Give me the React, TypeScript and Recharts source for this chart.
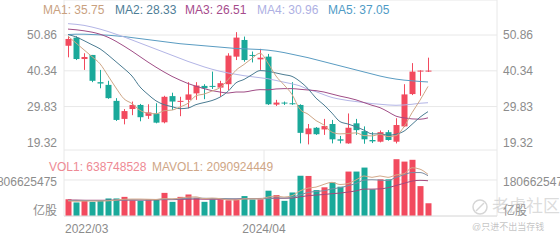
import { ComposedChart, Bar, Line, XAxis, YAxis, CartesianGrid } from 'recharts'

const months = [
  '2022/03', '2022/04', '2022/05', '2022/06', '2022/07', '2022/08', '2022/09', '2022/10', '2022/11', '2022/12',
  '2023/01', '2023/02', '2023/03', '2023/04', '2023/05', '2023/06', '2023/07', '2023/08', '2023/09', '2023/10', '2023/11', '2023/12',
  '2024/01', '2024/02', '2024/03', '2024/04', '2024/05', '2024/06', '2024/07', '2024/08', '2024/09', '2024/10', '2024/11', '2024/12',
  '2025/01', '2025/02', '2025/03', '2025/04', '2025/05', '2025/06', '2025/07', '2025/08', '2025/09', '2025/10', '2025/11', '2025/12',
]

const opens = [47.7, 50.1, 43.8, 45.0, 37.0, 36.2, 31.5, 26.2, 29.1, 30.3, 27.1, 27.8, 25.2, 32.9, 31.2, 31.8, 33.7, 35.9, 35.9, 35.4, 36.4, 44.5, 49.4, 45.0, 43.7, 44.5, 30.4, 31.0, 30.8, 30.3, 21.7, 23.6, 23.1, 24.7, 20.2, 19.0, 24.9, 22.6, 20.0, 19.5, 22.3, 19.5, 24.0, 33.5, 40.2, 40.2]
const closes = [49.7, 43.8, 44.4, 37.4, 36.6, 32.3, 25.9, 28.5, 30.3, 26.7, 28.1, 25.1, 32.7, 31.3, 31.5, 33.4, 36.0, 35.2, 35.8, 36.7, 44.8, 50.1, 43.5, 44.7, 44.2, 30.5, 31.0, 30.8, 30.6, 22.1, 23.4, 21.7, 24.1, 20.2, 19.8, 23.6, 22.9, 20.2, 19.6, 22.3, 20.0, 24.4, 33.4, 40.1, 40.4, 40.4]
const highs = [50.6, 50.5, 45.5, 45.0, 40.6, 37.4, 32.3, 29.1, 31.3, 30.6, 30.5, 30.8, 33.0, 33.9, 32.7, 37.0, 37.0, 36.4, 40.1, 37.4, 45.5, 51.7, 50.4, 46.0, 46.8, 45.3, 31.8, 31.3, 37.0, 30.5, 24.7, 23.8, 26.2, 25.9, 21.2, 27.8, 26.2, 24.0, 22.3, 22.8, 22.9, 26.4, 36.4, 42.6, 40.5, 44.2]
const lows = [44.3, 43.5, 40.6, 37.0, 35.2, 32.1, 25.6, 24.6, 27.3, 25.5, 26.2, 24.9, 24.9, 28.8, 27.0, 29.3, 31.8, 32.0, 35.0, 32.7, 34.7, 43.5, 43.0, 42.8, 40.6, 30.3, 30.0, 30.3, 30.3, 19.0, 18.7, 21.5, 21.5, 19.0, 19.0, 18.9, 21.5, 18.9, 19.1, 19.3, 19.8, 19.0, 23.8, 33.2, 33.0, 40.0]

const ma1 = [50.5, 48.5, 46.5, 44.5, 42.4, 38.9, 35.3, 32.1, 30.7, 28.7, 27.9, 27.7, 28.6, 28.8, 29.7, 30.8, 33.0, 33.5, 34.4, 35.4, 37.7, 40.5, 42.2, 44.0, 45.5, 42.6, 38.8, 36.2, 33.4, 29.0, 27.6, 25.7, 24.4, 22.3, 21.8, 21.9, 22.1, 21.3, 21.2, 21.7, 21.0, 21.3, 23.9, 28.0, 31.7, 35.75]
const ma2 = [51.0, 50.3, 49.2, 48.0, 46.8, 45.0, 43.0, 41.0, 38.8, 35.6, 33.4, 31.5, 30.4, 29.8, 29.2, 29.4, 30.4, 31.0, 31.6, 32.6, 34.3, 36.8, 37.8, 39.2, 40.4, 40.2, 39.7, 39.2, 38.7, 37.2, 35.1, 32.3, 30.3, 27.9, 25.4, 24.7, 23.9, 22.9, 21.8, 21.8, 21.4, 21.7, 22.6, 24.6, 26.7, 28.33]
const ma3 = [52.6, 52.4, 52.1, 51.7, 51.1, 50.2, 49.0, 47.6, 46.1, 44.5, 42.9, 41.4, 40.0, 38.7, 37.6, 36.6, 35.8, 35.1, 34.5, 34.1, 33.8, 34.1, 34.1, 34.5, 34.8, 34.75, 35.0, 35.1, 35.1, 34.9, 34.7, 34.5, 34.1, 33.5, 32.9, 32.4, 31.8, 31.0, 30.2, 29.5, 28.3, 27.0, 26.5, 26.2, 26.1, 26.51]
const ma4 = [54.2, 54.0, 53.7, 53.2, 52.6, 51.9, 51.1, 50.3, 49.4, 48.5, 47.6, 46.7, 45.8, 44.9, 44.0, 43.1, 42.3, 41.5, 40.8, 40.2, 39.7, 39.3, 38.9, 38.6, 38.3, 38.0, 37.5, 37.0, 36.5, 35.9, 34.9, 34.2, 33.3, 32.5, 32.0, 31.6, 31.3, 31.0, 30.7, 30.5, 30.3, 30.2, 30.3, 30.5, 30.8, 30.96]
const ma5 = [51.0, 51.1, 51.1, 51.0, 50.9, 50.8, 50.6, 50.4, 50.1, 49.8, 49.5, 49.2, 48.9, 48.6, 48.3, 48.1, 47.9, 47.7, 47.5, 47.3, 47.1, 46.9, 46.8, 46.7, 46.6, 46.4, 46.1, 45.7, 45.2, 44.7, 44.2, 43.6, 43.0, 42.4, 41.8, 41.2, 40.6, 40.0, 39.4, 38.8, 38.3, 37.9, 37.6, 37.4, 37.2, 37.05]

// volume in 亿股
const vols = [8.4, 6.8, 7.6, 7.1, 7.6, 8.8, 8.8, 9.6, 7.9, 7.6, 8.3, 8.3, 11.6, 7.1, 9.6, 10.8, 9.1, 7.1, 8.3, 8.3, 7.9, 8.3, 10.0, 8.3, 8.4, 12.7, 10.5, 7.6, 11.8, 20.2, 20.1, 13.0, 14.4, 16.9, 14.7, 22.3, 22.3, 24.3, 13.4, 18.4, 18.4, 28.5, 27.3, 28.2, 15.0, 6.39]
const mavol1 = [7.6, 7.4, 7.5, 7.5, 7.5, 7.6, 8.0, 8.4, 8.5, 8.5, 8.4, 8.3, 8.7, 8.6, 9.0, 9.5, 9.6, 8.7, 9.0, 8.7, 8.1, 8.0, 8.6, 8.6, 8.6, 9.5, 10.0, 9.5, 10.2, 12.6, 14.0, 14.5, 15.9, 16.9, 15.8, 16.3, 18.1, 20.1, 19.4, 20.1, 19.4, 20.6, 21.2, 24.2, 23.5, 20.9]
const mavol2 = [7.8, 7.8, 7.8, 7.7, 7.7, 7.8, 7.9, 8.0, 8.1, 8.0, 8.0, 8.2, 8.5, 8.4, 8.6, 8.9, 9.0, 8.9, 8.8, 8.8, 8.7, 8.6, 8.6, 8.7, 8.6, 8.8, 9.0, 9.0, 9.4, 10.6, 11.8, 12.3, 12.7, 13.6, 14.2, 15.2, 16.3, 18.0, 18.2, 18.0, 17.8, 19.4, 20.7, 21.8, 21.8, 20.2]
const mavol3 = [8.0, 8.0, 7.9, 7.9, 7.9, 7.9, 8.0, 8.0, 8.0, 8.0, 8.0, 8.1, 8.2, 8.2, 8.3, 8.4, 8.5, 8.4, 8.4, 8.4, 8.4, 8.5, 8.7, 8.7, 8.8, 8.9, 8.9, 8.9, 9.0, 9.6, 10.2, 10.5, 10.8, 11.2, 11.5, 12.0, 12.6, 13.5, 13.5, 13.6, 14.2, 15.3, 16.4, 17.5, 17.9, 17.7]

const priceTicks = [19.32, 29.83, 40.34, 50.86]
const volTickLabel = '1806625475'
const volTick = 18.06625475
const xLabels = ['2022/03', '2024/04']

const RED = '#f24a5e'
const GREEN = '#1aa99a'
const GRID = '#e8e8e8'
const LABEL = '#8c8c8c'
const FONT = '"Liberation Sans", Arial, "Noto Sans CJK SC", sans-serif'

const rows = months.map((m, i) => ({
  i,
  month: m,
  open: opens[i],
  close: closes[i],
  high: highs[i],
  low: lows[i],
  ma1: ma1[i],
  ma2: ma2[i],
  ma3: ma3[i],
  ma4: ma4[i],
  ma5: ma5[i],
  vol: vols[i],
  mavol1: mavol1[i],
  mavol2: mavol2[i],
  mavol3: mavol3[i],
}))

// slot boundaries: left edge of 2022/03, 2024/04, 2026/05 and the right end of the axis
const xGrid = [-0.5, 24.5, 49.5, 53.625]
const xDomain = [-0.5, 53.625]

const Candle = (p: any) => {
  const { x, y, width, height, payload } = p
  const top = Math.min(y, y + height)
  const bot = Math.max(y, y + height)
  const k = (bot - top) / (payload.high - payload.low)
  const py = (v: number) => top + (payload.high - v) * k
  const cx = Math.round(x + width / 2)
  const color = payload.close >= payload.open ? RED : GREEN
  const bt = py(Math.max(payload.open, payload.close))
  const bb = py(Math.min(payload.open, payload.close))
  return (
    <g>
      <line x1={cx + 0.5} x2={cx + 0.5} y1={top} y2={bot} stroke={color} strokeWidth={1} />
      <rect x={cx - 2.5} y={bt} width={6} height={Math.max(1, bb - bt)} fill={color} />
    </g>
  )
}

const VolBar = (p: any) => {
  const { x, y, width, height, payload } = p
  const cx = Math.round(x + width / 2)
  const color = payload.close >= payload.open ? RED : GREEN
  return <rect x={cx - 2.5} y={y} width={6} height={Math.max(0, height)} fill={color} />
}

const XTick = (p: any) => {
  const { x, y, payload } = p
  const idx = Math.round(payload.value + 0.5)
  const label = xLabels.includes(months[idx]) ? months[idx] : ''
  if (!label) return null
  const first = idx === 0
  return (
    <text x={first ? x + 1 : x} y={y} dy="0.71em" textAnchor={first ? 'start' : 'middle'} fill={LABEL} fontSize={12}>
      {label}
    </text>
  )
}

const VolTick = (side: 'left' | 'right') => (p: any) => {
  const { x, y, payload } = p
  const isZero = payload.value === 0
  return (
    <text x={x} y={y + (isZero ? -5 : 2)} dy="0.355em" textAnchor={side === 'left' ? 'end' : 'start'} fill={LABEL} fontSize={12}>
      {isZero ? '亿股' : volTickLabel}
    </text>
  )
}

const legend = [
  { label: 'MA1: 35.75', color: '#c9a17f', left: 43 },
  { label: 'MA2: 28.33', color: '#4d7d96', left: 115 },
  { label: 'MA3: 26.51', color: '#a64b8c', left: 185 },
  { label: 'MA4: 30.96', color: '#aeb0e3', left: 257 },
  { label: 'MA5: 37.05', color: '#4f9bc6', left: 328 },
]

export default function App() {
  return (
    <div style={{ position: 'absolute', left: 0, top: 0, width: 560, height: 240, fontFamily: FONT, background: '#fff', overflow: 'hidden' }}>
      <div style={{ position: 'absolute', left: 0, top: 0 }}>
        <ComposedChart width={560} height={150} data={rows} margin={{ top: 0, right: 0, bottom: 0, left: 0 }}>
          <CartesianGrid stroke={GRID} yAxisId="l" />
          <XAxis dataKey="i" type="number" domain={xDomain} ticks={xGrid} allowDataOverflow height={0} tick={false} axisLine={false} tickLine={false} />
          <YAxis yAxisId="l" orientation="left" width={64} domain={[17.06, 61.15]} ticks={priceTicks} allowDataOverflow axisLine={false} tickLine={false} tickMargin={1} tick={{ fill: LABEL, fontSize: 12 }} tickFormatter={(v: number) => v.toFixed(2)} />
          <YAxis yAxisId="r" orientation="right" width={63} domain={[17.06, 61.15]} ticks={priceTicks} allowDataOverflow axisLine={false} tickLine={false} tickMargin={0} tick={{ fill: LABEL, fontSize: 12 }} tickFormatter={(v: number) => v.toFixed(2)} />
          <Bar yAxisId="l" dataKey={(d: any) => [d.low, d.high]} barSize={6} shape={Candle} isAnimationActive={false} />
          <Line yAxisId="l" type="monotone" dataKey="ma5" stroke="#5a9cc2" strokeWidth={1} dot={false} activeDot={false} isAnimationActive={false} />
          <Line yAxisId="l" type="monotone" dataKey="ma4" stroke="#b3b5e6" strokeWidth={1} dot={false} activeDot={false} isAnimationActive={false} />
          <Line yAxisId="l" type="monotone" dataKey="ma3" stroke="#a04d86" strokeWidth={1} dot={false} activeDot={false} isAnimationActive={false} />
          <Line yAxisId="l" type="monotone" dataKey="ma2" stroke="#4b7c92" strokeWidth={1} dot={false} activeDot={false} isAnimationActive={false} />
          <Line yAxisId="l" type="monotone" dataKey="ma1" stroke="#cfa686" strokeWidth={1} dot={false} activeDot={false} isAnimationActive={false} />
        </ComposedChart>
      </div>
      <div style={{ position: 'absolute', left: 0, top: 150 }}>
        <ComposedChart width={560} height={90} data={rows} margin={{ top: 0, right: 0, bottom: 0, left: 0 }}>
          <CartesianGrid stroke={GRID} yAxisId="l" />
          <XAxis dataKey="i" type="number" domain={xDomain} ticks={xGrid} allowDataOverflow height={24} tick={<XTick />} axisLine={{ stroke: '#e0e0e0' }} tickLine={false} />
          <YAxis yAxisId="l" orientation="left" width={64} domain={[0, 33.12]} ticks={[0, volTick]} allowDataOverflow axisLine={false} tickLine={false} tickMargin={1} tick={VolTick('left')} />
          <YAxis yAxisId="r" orientation="right" width={63} domain={[0, 33.12]} ticks={[0, volTick]} allowDataOverflow axisLine={false} tickLine={false} tickMargin={0} tick={VolTick('right')} />
          <Bar yAxisId="l" dataKey="vol" barSize={6} shape={VolBar} isAnimationActive={false} />
          <Line yAxisId="l" type="monotone" dataKey="mavol3" stroke="#a44a7c" strokeWidth={1} dot={false} activeDot={false} isAnimationActive={false} />
          <Line yAxisId="l" type="monotone" dataKey="mavol2" stroke="#7d8ea4" strokeWidth={1} dot={false} activeDot={false} isAnimationActive={false} />
          <Line yAxisId="l" type="monotone" dataKey="mavol1" stroke="#d4a98a" strokeWidth={1} dot={false} activeDot={false} isAnimationActive={false} />
        </ComposedChart>
      </div>
      {legend.map((l) => (
        <span key={l.label} style={{ position: 'absolute', left: l.left, top: 3, fontSize: 12, lineHeight: '14px', color: l.color, whiteSpace: 'nowrap' }}>
          {l.label}
        </span>
      ))}
      <span style={{ position: 'absolute', left: 49, top: 160, fontSize: 12, lineHeight: '14px', color: '#ee8a94', whiteSpace: 'nowrap' }}>
        VOL1: 638748528
      </span>
      <span style={{ position: 'absolute', left: 152, top: 160, fontSize: 12, lineHeight: '14px', color: '#cfa686', whiteSpace: 'nowrap' }}>
        MAVOL1: 2090924449
      </span>
      <svg width={18} height={18} style={{ position: 'absolute', left: 471, top: 198 }}>
        <circle cx={9} cy={9} r={7} fill="none" stroke="#d6d6d6" strokeWidth={1.5} />
        <line x1={5} y1={13} x2={13} y2={5} stroke="#d6d6d6" strokeWidth={1.5} />
      </svg>
      <span style={{ position: 'absolute', left: 492, top: 197, fontSize: 17, lineHeight: '20px', color: 'rgba(190,190,190,0.55)', whiteSpace: 'nowrap' }}>
        老虎社区
      </span>
      <span style={{ position: 'absolute', left: 472, top: 222, fontSize: 9, lineHeight: '11px', color: 'rgba(170,170,170,0.7)', whiteSpace: 'nowrap' }}>
        @只进不出当存钱
      </span>
    </div>
  )
}
